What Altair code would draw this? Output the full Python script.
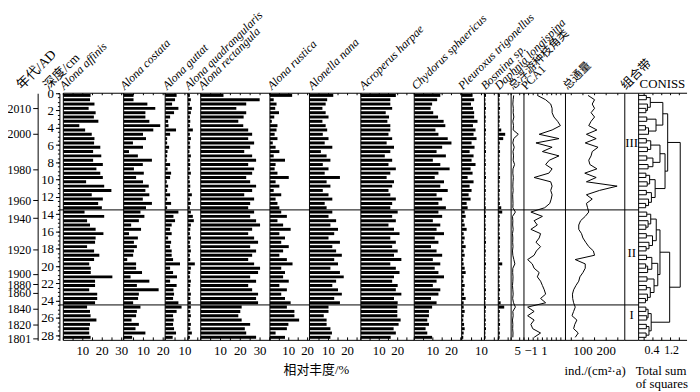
import altair as alt
import pandas as pd
import numpy as np

# ---------------- data ----------------
depth_cm = [0.25, 0.75, 1.25, 1.75, 2.25, 2.75, 3.25, 3.75, 4.25, 4.75,
            5.25, 5.75, 6.25, 6.75, 7.25, 7.75, 8.25, 8.75, 9.25, 9.75,
            10.25, 10.75, 11.25, 11.75, 12.25, 12.75, 13.25, 13.75, 14.25, 14.75,
            15.25, 15.75, 16.25, 16.75, 17.25, 17.75, 18.25, 18.75, 19.25, 19.75,
            20.25, 20.75, 21.25, 21.75, 22.25, 22.75, 23.25, 23.75, 24.25, 24.75,
            25.25, 25.75, 26.25, 26.75, 27.25, 27.75, 28.25]

alona_affinis = [14, 13.7, 16, 13, 16.6, 15.7, 18,
                 8.2, 11.2, 14.6, 16, 15.8, 19, 15.3, 19.5, 15.3, 20.3, 17, 19, 20.3, 11.7, 21, 24.7, 14.6, 20.3, 17.9, 19.8,
                 10.9, 21, 12.2, 13.7, 16.6, 20.6, 16.6, 16.3, 12.2, 15.8, 18.5, 15.8, 13.3, 14.1, 14.1, 25.2, 16.3, 16.3, 13.3, 17.4, 17.4, 16.3,
                 12.2, 13.7, 14, 17, 13.7, 13.3, 13.3, 14]
alona_costata = [5, 5, 12, 16, 11, 11, 13,
                 18.5, 15, 9.8, 11.3, 4.7, 9.8, 2.7, 7.2, 14.3, 9.7, 5.2, 10.2, 6.3, 9.8, 12.7, 11, 13, 9.7, 14.3, 11.3,
                 8.5, 10.5, 7.7, 3.8, 8.8, 2.7, 7.2, 5.2, 6.7, 5.2, 4.8, 1.8, 6.3, 6.3, 9.3, 3.5, 13, 6.7, 17.7, 7.7, 7.3, 4.8,
                 8.5, 6.7, 6.3, 4, 7.7, 6, 11, 4.3]
alona_guttat = [5.8, 5, 3.5, 6.7, 4.5, 2.5, 1.5,
                1.7, 5.5, 2.5, 1, 1, 2, 1.2, 1, 0.8, 2.5, 1.2, 3, 2.5, 0.8, 1.5, 1, 2.5, 1, 3, 1,
                6.7, 4.2, 5, 3.3, 2.5, 3.3, 1.5, 3, 2.5, 3.3, 3.3, 4, 7.5, 2.5, 4, 6, 2.5, 5.8, 4.2, 4.5, 4, 6.7,
                8.3, 5.8, 4, 4.3, 4, 4.5, 5.5, 3.8]
alona_quadrangularis = [1, 1.5, 1, 2, 1.5, 1, 1.2,
                        1, 2.5, 1, 1.5, 1, 1.2, 0.8, 1.5, 1, 1.2, 1, 1.5, 0.8, 1, 1.2, 1, 2, 1, 1.5, 1,
                        1.5, 2.5, 3, 1.5, 1.2, 1, 1.5, 1, 1.2, 1.5, 1, 1.2, 3.5, 1.5, 1.2, 1, 1.5, 1.2, 1, 1.5, 1.2, 1.5,
                        1.5, 1.2, 1.5, 1, 1.5, 1.2, 2, 1]
alona_rectangula = [11.5, 29.8, 23, 18, 23, 21.7, 19, 21.5, 24,
                    26, 24, 27, 25, 22, 26, 28, 24, 27, 26, 23, 25, 28, 26, 22, 27, 25, 24,
                    27, 25, 28, 30, 26, 24, 27, 29, 25, 28, 26, 24, 27, 30, 29, 25, 28, 24, 26, 29, 28, 29,
                    20.7, 20, 19, 20.7, 25, 22.3, 23, 28]
alona_rustica = [11.8, 2, 3.5, 2.8, 4.8, 2.3, 1, 4, 3.5,
                 2.5, 4, 1.5, 3, 5, 2, 8, 3, 2.5, 4, 10, 3, 5, 2, 6, 3, 4, 5,
                 6, 9, 4, 7, 11, 5, 8, 6, 10, 7, 5, 9, 12, 6, 8, 7, 10, 5, 9, 6, 8, 11,
                 9, 13, 13, 15.5, 9.8, 9, 3, 8]
alonella_nana = [12.5, 9.3, 8.5, 6.8, 8.5, 10, 6.8, 8.5, 9.3,
                 7, 10, 8, 12, 6, 9, 11, 7, 10, 8, 16, 9, 11, 7, 10, 12, 8, 9,
                 12, 10, 14, 11, 15, 13, 10, 16, 12, 14, 17, 13, 15, 11, 16, 18, 14, 12, 15, 17, 13, 16,
                 10, 10, 7.5, 9, 9, 11, 11.8, 11]
acroperus_harpae = [19, 16, 16, 17, 13.5, 15.3, 14.4, 16, 16,
                    15, 17, 14, 18, 16, 13, 17, 15, 19, 16, 14, 18, 17, 15, 16, 19, 17, 16,
                    20, 17, 19, 15, 18, 21, 16, 19, 17, 20, 18, 22, 16, 19, 21, 18, 17, 20, 19, 22, 18, 20,
                    19.8, 19.8, 19.8, 21.6, 20.5, 17.8, 19, 16.2]
chydorus_sphaericus = [14, 12.3, 9.6, 8.8, 10.2, 12.8, 15.8, 16.7, 11.4,
                       13, 18, 20, 15, 12, 17, 10, 14, 19, 13, 11, 16, 14, 18, 12, 15, 13, 17,
                       13, 15, 10, 14, 12, 16, 11, 13, 9, 12, 15, 10, 14, 11, 13, 16, 12, 10, 14, 13, 9, 12,
                       9.6, 7.9, 7.9, 7, 7.9, 6.1, 7, 9.6]
pleuroxus_trigonellus = [5.5, 6.3, 4.7, 5.7, 6.3, 6.3, 8, 5.7, 7,
                         6, 7.5, 5, 6.5, 4, 6, 5, 7, 4.5, 5.5, 3, 6, 4, 5, 3.5, 4.5, 2.5, 3,
                         1.5, 2, 1, 1.5, 2.5, 1, 1.5, 1, 2, 1, 1.5, 0.8, 1, 1.5, 2, 1, 0.8, 1.5, 1, 1.2, 2, 1,
                         1, 1.5, 1, 0.8, 1.2, 1.5, 1, 0.8]
bosmina_sp = [0.8, 0.5, 0.6, 0.8, 0.5, 0.7, 0.6, 0.5, 0.8, 0.6,
              0.5, 0.7, 0.6, 0.8, 0.5, 0.6, 0.7, 0.5, 0.6, 0.8,
              0.5, 0.6, 0.7, 0.5, 0.6, 0.5, 0.7, 0.6, 0.8, 0.5,
              0.6, 0.7, 0.5, 0.6, 0.8, 0.5, 0.7, 0.6, 0.5, 0.8,
              0.6, 0.5, 0.7, 0.6, 0.5, 0.8, 0.6, 0.7, 0.5, 0.8,
              0.6, 0.5, 0.7, 0.6, 0.8, 0.5, 0.6]
daphnia_longispina = [0.8, 0.6, 0.7, 0.9, 0.6, 0.8, 0.7, 0.6, 1.5, 3.5,
                      2.5, 0.8, 0.6, 0.9, 0.7, 0.6, 0.8, 0.7, 0.6, 0.9,
                      0.7, 0.6, 0.8, 0.6, 0.7, 0.8, 1.5, 2.0, 0.7, 0.6,
                      0.8, 0.6, 0.7, 0.9, 0.6, 0.8, 0.7, 0.6, 0.8, 2.0,
                      0.7, 0.6, 0.8, 0.6, 0.7, 0.9, 0.6, 0.8, 1.2, 3.0,
                      0.8, 0.6, 0.7, 0.9, 0.6, 0.8, 0.7]
total_planktonic = [1.5, 1.2, 1.0, 1.3, 1.2, 1.6, 1.0, 1.4, 1.2, 4.2,
                    1.5, 1.0, 1.8, 1.1, 1.4, 1.2, 2.0, 1.1, 1.0, 1.3,
                    1.1, 1.0, 1.2, 0.9, 1.0, 1.1, 1.0, 2.5, 0.8, 1.0,
                    0.9, 1.2, 0.8, 1.0, 0.9, 1.1, 0.8, 1.0, 1.6, 2.2,
                    1.0, 0.9, 1.1, 1.0, 0.8, 1.0, 1.2, 0.9, 1.4, 2.5,
                    1.0, 1.2, 0.8, 1.0, 0.9, 1.1, 1.0]
pca1 = [-0.1, 1.7, 2.8, 3.1, 3.1, 3.5, 4.3, 4.9, 3.1, 0.3,
        4.6, -0.4, 3.1, 1.0, 4.6, 2.5, 1.7, 3.1, 2.4, -0.8,
        2.8, 3.1, 2.8, 3.1, 2.9, 2.6, 1.5, -1.5, 1.0, -0.8,
        -0.1, -1.5, 0.6, 0.3, -0.4, 0.6, -0.3, -0.8, -2.2, -1.2,
        -0.8, 0.3, -0.1, 0.6, 1.0, 1.4, 1.7, 0.6, 1.7, -2.2,
        -0.8, -2.2, -0.8, -1.5, -1.1, 0.6, -0.8]
total_flux = [122, 150, 140, 150, 135, 150, 135, 125, 160, 115,
              157, 110, 165, 140, 135, 125, 130, 160, 108, 157,
              115, 247, 171, 115, 140, 115, 120, 125, 110, 90,
              82, 82, 94, 100, 112, 125, 145, 150, 67, 110,
              110, 100, 87, 82, 70, 60, 55, 56, 60, 67,
              60, 53, 74, 65, 60, 80, 67]

age_labels = ["2010", "2000", "1980", "1960", "1940", "1920", "1900", "1880", "1860", "1840", "1820", "1801"]
age_depths = [1.72, 4.72, 8.85, 12.4, 14.46, 18.1, 20.9, 22.1, 23.07, 24.94, 26.74, 28.4]
depth_labels = [0, 2, 4, 6, 8, 10, 12, 14, 16, 18, 20, 22, 24, 26, 28]

zone_bounds = [13.5, 24.5]
zone_names = ["III", "II", "I"]
zone_name_depth = [5.8, 18.5, 25.7]

# CONISS tree: [height, left, right]; leaves are sample indices
coniss_tree = [1.64,
               [1.07,
                [0.85,
                 [0.28, [0.10, 0, 1], [0.15, 2, [0.08, 3, 4]]],
                 [0.54, [0.12, 5, 6], [0.20, [0.06, 7, 8], 9]]],
                [0.95,
                 [0.72, [0.30, [0.10, 10, 11], [0.15, 12, 13]], [0.40, [0.12, 14, 15], [0.18, 16, 17]]],
                 [0.50, [0.25, [0.08, 18, 19], [0.14, 20, 21]], [0.33, [0.10, 22, 23], [0.20, 24, [0.07, 25, 26]]]]]],
               [1.16,
                [0.72,
                 [0.55, [0.30, [0.12, 27, 28], [0.18, 29, [0.08, 30, 31]]], [0.38, [0.10, 32, 33], [0.22, 34, [0.09, 35, 36]]]],
                 [0.62, [0.35, [0.11, 37, 38], [0.16, [0.07, 39, 40], 41]],
                  [0.45, [0.13, 42, 43], [0.28, [0.10, 44, 45], [0.15, 46, [0.06, 47, 48]]]]]],
                [0.32, [0.18, [0.08, 49, 50], [0.12, 51, 52]], [0.22, [0.10, 53, 54], [0.09, 55, 56]]]]]

# ---------------- styling / helpers ----------------
FONT = "Liberation Serif"
CJK = "Liberation Serif, Noto Sans CJK SC"
W = 657
H = 250
Y_DOMAIN = [0, 28.6]
HDR = 12


def yscale():
    return alt.Scale(domain=Y_DOMAIN, reverse=True, nice=False, zero=False)


base = pd.DataFrame({"depth": depth_cm})
base["top"] = base["depth"] - 0.17
base["bot"] = base["depth"] + 0.17
zone_df = pd.DataFrame({"d": zone_bounds})


def text_at(text, x, y, font=FONT, size=13, align="center", baseline="middle"):
    return alt.Chart(pd.DataFrame({"t": [text]})).mark_text(
        font=font, fontSize=size, color="black", align=align, baseline=baseline).encode(
        text="t:N", x=alt.value(x), y=alt.value(y))


def header(text, x, italic=True, cjk=False, size=HDR):
    return alt.Chart(pd.DataFrame({"t": [text]})).mark_text(
        angle=315, align="left", baseline="alphabetic",
        font=CJK if cjk else FONT, fontStyle="italic" if italic else "normal",
        fontSize=size, color="black").encode(text="t:N", x=alt.value(x), y=alt.value(-3))


def frame(xs, d0, d1, ticks, lab_vals, lab_text, lab_dx=None, lab_size=13, left=True):
    one = pd.DataFrame({"x0": [d0], "x1": [d1]})
    tdf = pd.DataFrame({"t": ticks})
    out = []
    if left:
        out.append(alt.Chart(one).mark_rule(color="black", strokeWidth=1).encode(
            x=alt.X("x0:Q", scale=xs, axis=None)))
    for yv in (0, H):
        out.append(alt.Chart(one).mark_rule(color="black", strokeWidth=1).encode(
            x=alt.X("x0:Q", scale=xs, axis=None), x2="x1:Q", y=alt.value(yv)))
    out.append(alt.Chart(tdf).mark_rule(color="black", strokeWidth=1).encode(
        x=alt.X("t:Q", scale=xs, axis=None), y=alt.value(H), y2=alt.value(H - 3)))
    out.append(alt.Chart(tdf).mark_rule(color="black", strokeWidth=1).encode(
        x=alt.X("t:Q", scale=xs, axis=None), y=alt.value(0), y2=alt.value(2)))
    if lab_dx is None:
        lab_dx = [0] * len(lab_vals)
    for v, s, dx in zip(lab_vals, lab_text, lab_dx):
        ldf = pd.DataFrame({"v": [v], "s": [s]})
        out.append(alt.Chart(ldf).mark_text(font=FONT, fontSize=lab_size, color="black", align="center",
                                            baseline="top", dx=dx).encode(
            x=alt.X("v:Q", scale=xs, axis=None), y=alt.value(H + 5), text="s:N"))
    return out


def bar_panel(vals, a, b, dmax, labels, step, title, hx=2):
    df = base.copy()
    df["v"] = vals
    df["z"] = 0.0
    xs = alt.Scale(domain=[0, dmax], range=[a, b], nice=False, zero=False)
    bars = alt.Chart(df).mark_rect(color="black").encode(
        x=alt.X("z:Q", scale=xs, axis=None), x2="v:Q",
        y=alt.Y("top:Q", scale=yscale(), axis=None), y2="bot:Q")
    tv = [float(t) for t in np.arange(0, dmax + 1e-9, step)]
    return alt.layer(bars, *frame(xs, 0, dmax, tv, labels, [str(v) for v in labels]),
                     header(title, a + hx))


def line_panel(vals, a, b, domain, labels, lab_text, tv, title, hx=2, cjk=False, lab_dx=None):
    df = base.copy()
    df["v"] = vals
    xs = alt.Scale(domain=domain, range=[a, b], nice=False, zero=False)
    line = alt.Chart(df).mark_line(color="black", strokeWidth=1).encode(
        x=alt.X("v:Q", scale=xs, axis=None),
        y=alt.Y("depth:Q", scale=yscale(), axis=None), order="depth:Q")
    return alt.layer(line, *frame(xs, domain[0], domain[1], tv, labels, lab_text, lab_dx),
                     header(title, a + hx, italic=False, cjk=cjk, size=11.5 if cjk else HDR))


# ---------------- age / depth axes ----------------
lab_arr = "[" + ",".join("'%s'" % s for s in age_labels) + "]"
dep_arr = "[" + ",".join(repr(d) for d in age_depths) + "]"
age_axis = alt.Axis(values=age_depths, labelExpr=lab_arr + "[indexof(" + dep_arr + ", datum.value)]",
                    orient="left", title=None, tickSize=5, tickColor="black", labelPadding=2,
                    domain=True, domainColor="black", grid=False, labelFont=FONT,
                    labelFontSize=12, labelColor="black", labelOverlap=False)
depth_axis = alt.Axis(values=depth_labels, format="d", orient="left", offset=-22, title=None,
                      tickSize=4, tickColor="black", labelPadding=2, domain=True,
                      domainColor="black", grid=False, labelFont=FONT, labelFontSize=13,
                      labelColor="black", labelOverlap=False)
minor_axis = alt.Axis(values=[i * 0.5 for i in range(58)], labels=False, domain=False,
                      orient="left", offset=-22, title=None, tickSize=2, tickColor="black",
                      grid=False)
age_l1 = alt.Chart(zone_df).mark_rule(color="black", strokeWidth=1).encode(
    y=alt.Y("d:Q", scale=yscale(), axis=age_axis), x=alt.value(22), x2=alt.value(608))
age_l2 = alt.Chart(zone_df).mark_rule(opacity=0).encode(
    y=alt.Y("d:Q", scale=yscale(), axis=depth_axis), x=alt.value(22), x2=alt.value(23))
age_l3 = alt.Chart(zone_df).mark_rule(opacity=0).encode(
    y=alt.Y("d:Q", scale=yscale(), axis=minor_axis), x=alt.value(22), x2=alt.value(23))

# ---------------- species / index panels ----------------
panels = [
    bar_panel(alona_affinis, 26, 87, 31, [10, 20, 30], 5, "Alona affinis", 1),
    bar_panel(alona_costata, 87, 129, 21, [10, 20], 5, "Alona costata", 1),
    bar_panel(alona_guttat, 129, 152, 11.5, [10], 5, "Alona guttat", 2),
    bar_panel(alona_quadrangularis, 152, 165, 6.5, [], 5, "Alona quadrangularis", 1),
    bar_panel(alona_rectangula, 165, 235, 35, [10, 20, 30], 5, "Alona rectangula", 2),
    bar_panel(alona_rustica, 235, 275, 21, [10, 20], 5, "Alona rustica", 2),
    bar_panel(alonella_nana, 275, 327, 27, [10, 20], 5, "Alonella nana", 3),
    bar_panel(acroperus_harpae, 327, 381, 29, [10, 20], 5, "Acroperus harpae", 3),
    bar_panel(chydorus_sphaericus, 381, 429, 25.5, [10, 20], 5, "Chydorus sphaericus", 2),
    bar_panel(pleuroxus_trigonellus, 429, 452, 11.5, [10], 5, "Pleuroxus trigonellus", 1),
    bar_panel(bosmina_sp, 452, 466, 7, [], 5, "Bosmina sp.", 1),
    bar_panel(daphnia_longispina, 466, 479, 6.5, [], 5, "Daphnia longispina", 1),
    line_panel(total_planktonic, 479, 492, [0, 7.5], [5], ["5"], [0.0, 5.0], "总浮游种枝角类", 2, cjk=True,
               lab_dx=[-2]),
    line_panel(pca1, 492, 534, [-3, 6], [-1, 1], ["\u22121", "1"],
               [-3.0, -2.0, -1.0, 0.0, 1.0, 2.0, 3.0, 4.0, 5.0, 6.0], "PCA1", 2, lab_dx=[-2, 2]),
    line_panel(total_flux, 534, 594, [25, 280], [100, 200], ["100", "200"],
               [50.0, 100.0, 150.0, 200.0, 250.0], "总通量", 2, cjk=True),
]

# ---------------- zone column ----------------
zl_df = pd.DataFrame({"lab": zone_names, "d": zone_name_depth})
zone_txt = alt.Chart(zl_df).mark_text(font=FONT, fontSize=13, color="black", align="center",
                                      baseline="middle").encode(
    text="lab:N", y=alt.Y("d:Q", scale=yscale(), axis=None), x=alt.value(601))
zone_box = pd.DataFrame({"a": [0]})
zone_left = alt.Chart(zone_box).mark_rule(color="black").encode(x=alt.value(594), y=alt.value(0), y2=alt.value(H))
zone_top = alt.Chart(zone_box).mark_rule(color="black").encode(x=alt.value(594), x2=alt.value(608), y=alt.value(0))
zone_bot = alt.Chart(zone_box).mark_rule(color="black").encode(x=alt.value(594), x2=alt.value(608), y=alt.value(H))

# ---------------- CONISS ----------------
H_MIN = -0.25
segs = []


def walk(node):
    if isinstance(node, int):
        return depth_cm[node], H_MIN
    h, a, b = node
    pa, ha = walk(a)
    pb, hb = walk(b)
    segs.append((ha, h, pa, pa))
    segs.append((hb, h, pb, pb))
    segs.append((h, h, pa, pb))
    return (pa + pb) / 2.0, h


walk(coniss_tree)
dend_df = pd.DataFrame(segs, columns=["h1", "h2", "y1", "y2"])
cx = alt.Scale(domain=[H_MIN, 1.95], range=[608, 657], nice=False, zero=False)
dend = alt.Chart(dend_df).mark_rule(color="black", strokeWidth=1).encode(
    x=alt.X("h1:Q", scale=cx, axis=None), x2="h2:Q",
    y=alt.Y("y1:Q", scale=yscale(), axis=None), y2="y2:Q")
coniss = alt.layer(dend, *frame(cx, H_MIN, 1.95, [0.0, 0.4, 0.8, 1.2, 1.6], [0.4, 1.2], ["0.4", "1.2"],
                                lab_dx=[-1, 1], lab_size=12))

texts = [
    header("年代/AD", -16, italic=False, cjk=True, size=13.5),
    header("深度/cm", 11, italic=False, cjk=True, size=13),
    header("组合带", 595, italic=False, cjk=True, size=12.5),
    text_at("CONISS", 609, -5, align="left", baseline="alphabetic"),
    text_at("相对丰度/%", 282, H + 30, font=CJK),
    text_at("ind./(cm²·a)", 564, H + 31),
    text_at("Total sum", 605, H + 31, align="left"),
    text_at("of squares", 605, H + 44, align="left"),
]

chart = alt.layer(age_l1, age_l2, age_l3, *panels, coniss, zone_txt, zone_left, zone_top, zone_bot,
                  *texts).resolve_scale(x="independent").resolve_axis(
    x="independent", y="independent").properties(
    width=W, height=H, autosize=alt.AutoSizeParams(type="none"),
    padding={"left": 30, "top": 84, "right": 5, "bottom": 50}).configure_view(
    stroke="transparent").configure_axis(labelFont=FONT, labelColor="black")

chart.save("out.html", embed_options={"renderer": "svg", "actions": False})
